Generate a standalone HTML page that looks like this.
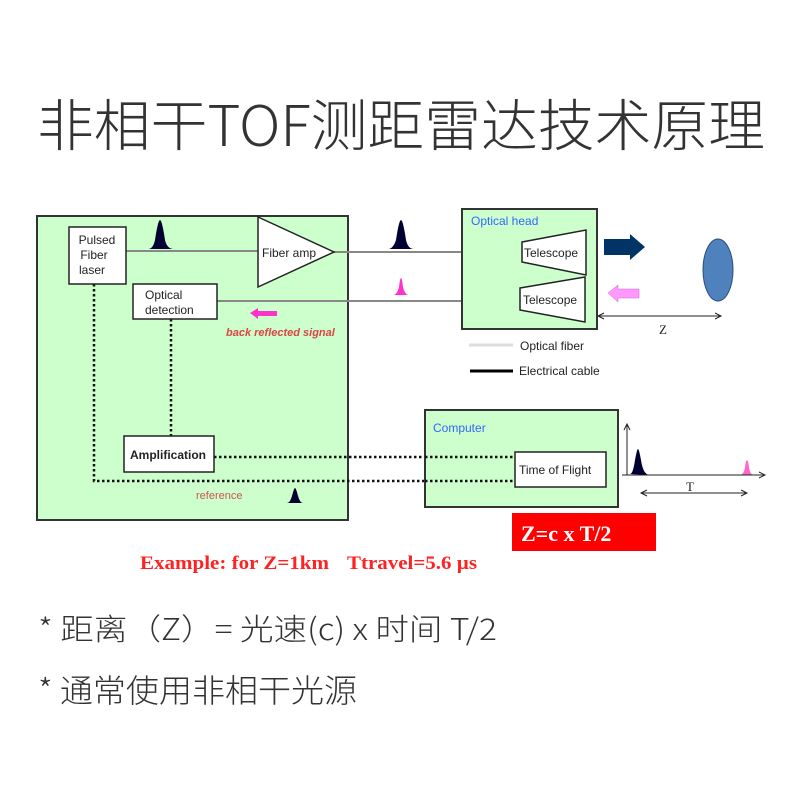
<!DOCTYPE html>
<html><head><meta charset="utf-8"><style>
html,body{margin:0;padding:0;background:#fff;width:800px;height:800px;overflow:hidden}
</style></head><body>
<svg width="800" height="800" xmlns="http://www.w3.org/2000/svg" font-family="Liberation Sans, sans-serif">
<text x="37" y="146" font-size="56" font-weight="300" fill="#333" font-family="Liberation Sans, Noto Sans CJK SC, sans-serif" textLength="728" lengthAdjust="spacingAndGlyphs">非相干<tspan font-family="Noto Sans CJK SC, sans-serif" font-weight="300">TOF</tspan>测距雷达技术原理</text>

<rect x="37" y="216" width="311" height="304" fill="#ccffcc" stroke="#333" stroke-width="2"/>
<line x1="126" y1="251" x2="258" y2="251" stroke="#888" stroke-width="2"/>
<line x1="334" y1="252" x2="525" y2="252" stroke="#888" stroke-width="2"/>
<line x1="217" y1="301" x2="520" y2="301" stroke="#888" stroke-width="2"/>
<g stroke="#111" stroke-width="2.5" stroke-dasharray="2.5,2.5" fill="none">
<polyline points="94,284 94,481 514,481"/>
<line x1="214" y1="457" x2="514" y2="457"/>
<line x1="171" y1="319" x2="171" y2="436"/>
</g>
<rect x="69" y="227" width="57" height="57" fill="#fff" stroke="#222" stroke-width="1.5"/>
<text x="97" y="244" font-size="12" text-anchor="middle" fill="#222">Pulsed</text>
<text x="94" y="259" font-size="12" text-anchor="middle" fill="#222">Fiber</text>
<text x="92" y="274" font-size="12" text-anchor="middle" fill="#222">laser</text>
<polygon points="258,217 258,287 334,252" fill="#fff" stroke="#222" stroke-width="1.5"/>
<text x="262" y="257" font-size="12" fill="#222">Fiber amp</text>
<rect x="133" y="284" width="84" height="35" fill="#fff" stroke="#222" stroke-width="1.5"/>
<text x="145" y="299" font-size="12" fill="#222">Optical</text>
<text x="145" y="314" font-size="12" fill="#222">detection</text>
<rect x="124" y="436" width="90" height="36" fill="#fff" stroke="#222" stroke-width="1.5"/>
<text x="130" y="459" font-size="12" font-weight="bold" fill="#222">Amplification</text>
<text x="196" y="499" font-size="11" fill="#c55">reference</text>
<text x="226" y="336" font-size="11" font-style="italic" font-weight="bold" fill="#d44">back reflected signal</text>
<polygon points="250,313 258,308 258,311 277,311 277,316 258,316 258,319" fill="#f3c"/>
<g fill="#003">
<path d="M148,249 Q153,249 155,240 Q158,220 160,220 Q162,220 165,240 Q167,249 174,249 Z"/>
<path d="M388,249 Q393,249 396,240 Q399,220 401,220 Q403,220 406,240 Q408,249 414,249 Z"/>
<path d="M287,503 Q290,503 292,496 Q294,488 295,488 Q296,488 298,496 Q300,503 303,503 Z"/>
<path d="M630,474 Q633,474 635,460 Q637,449 638,449 Q639,449 641,460 Q643,474 649,475 Z"/>
</g>
<path d="M393,295 Q397,295 399,287 Q400,278 401,278 Q402,278 403,287 Q405,295 409,295 Z" fill="#f3c"/>
<path d="M739,475 Q744,475 745,467 Q746,460 747,460 Q748,460 749,467 Q750,475 754,475 Z" fill="#f6c"/>

<rect x="462" y="209" width="135" height="120" fill="#ccffcc" stroke="#333" stroke-width="2"/>
<text x="471" y="225" font-size="12" fill="#36f">Optical head</text>
<polygon points="522,242 586,230 586,275 522,262" fill="#fff" stroke="#222" stroke-width="1.5"/>
<text x="524" y="257" font-size="12" fill="#222">Telescope</text>
<polygon points="520,288 585,277 585,322 520,310" fill="#fff" stroke="#222" stroke-width="1.5"/>
<text x="523" y="304" font-size="12" fill="#222">Telescope</text>
<polygon points="604,239 630,239 630,234 645,247 630,260 630,255 604,255" fill="#003366"/>
<polygon points="608,293 618,285 618,289 639,289 639,298 618,298 618,302" fill="#f9f" stroke="#c6c" stroke-width="0.5"/>
<ellipse cx="718" cy="270" rx="15" ry="31" fill="#4f81bd" stroke="#2a4d80" stroke-width="1"/>
<g stroke="#222" stroke-width="1" fill="none">
<line x1="598" y1="316" x2="721" y2="316"/>
<polyline points="604,313 598,316 604,319"/><polyline points="715,313 721,316 715,319"/>
<line x1="641" y1="493" x2="747" y2="493"/>
<polyline points="647,490 641,493 647,496"/><polyline points="741,490 747,493 741,496"/>
<line x1="627" y1="475" x2="627" y2="424"/><polyline points="624,430 627,424 630,430"/>
<line x1="622" y1="475" x2="765" y2="475"/><polyline points="759,472 765,475 759,478"/>
</g>
<text x="659" y="334" font-size="13" font-family="Liberation Serif, serif" fill="#222">Z</text>
<text x="686" y="491" font-size="13" font-family="Liberation Serif, serif" fill="#222">T</text>
<line x1="469" y1="345" x2="513" y2="345" stroke="#ddd" stroke-width="3"/>
<text x="520" y="350" font-size="12" fill="#222">Optical fiber</text>
<line x1="470" y1="371" x2="513" y2="371" stroke="#000" stroke-width="3"/>
<text x="519" y="375" font-size="12" fill="#222">Electrical cable</text>

<rect x="425" y="410" width="193" height="97" fill="#ccffcc" stroke="#333" stroke-width="2"/>
<text x="433" y="432" font-size="12" fill="#36f">Computer</text>
<g stroke="#111" stroke-width="2.5" stroke-dasharray="2.5,2.5"><line x1="425" y1="457" x2="515" y2="457"/><line x1="425" y1="481" x2="515" y2="481"/></g>
<rect x="515" y="452" width="91" height="35" fill="#fff" stroke="#222" stroke-width="1.5"/>
<text x="519" y="474" font-size="12" fill="#222">Time of Flight</text>

<rect x="512" y="513" width="144" height="38" fill="#f00"/>
<text x="521" y="541" font-size="22" font-weight="bold" font-family="Liberation Serif, serif" fill="#fff">Z=c x T/2</text>
<text x="140" y="569" font-size="19" font-weight="bold" font-family="Liberation Serif, serif" fill="#f22" textLength="189" lengthAdjust="spacingAndGlyphs">Example: for Z=1km</text>
<text x="347" y="569" font-size="19" font-weight="bold" font-family="Liberation Serif, serif" fill="#f22" textLength="130" lengthAdjust="spacingAndGlyphs">Ttravel=5.6 µs</text>

<text x="38" y="640" font-size="30" font-weight="300" fill="#333" font-family="Noto Sans CJK SC, sans-serif" textLength="459" lengthAdjust="spacingAndGlyphs">* 距离（Z）= 光速(c) x 时间 T/2</text>
<text x="38" y="702" font-size="32" font-weight="300" fill="#333" font-family="Noto Sans CJK SC, sans-serif" textLength="319" lengthAdjust="spacingAndGlyphs">* 通常使用非相干光源</text>
</svg>
</body></html>
